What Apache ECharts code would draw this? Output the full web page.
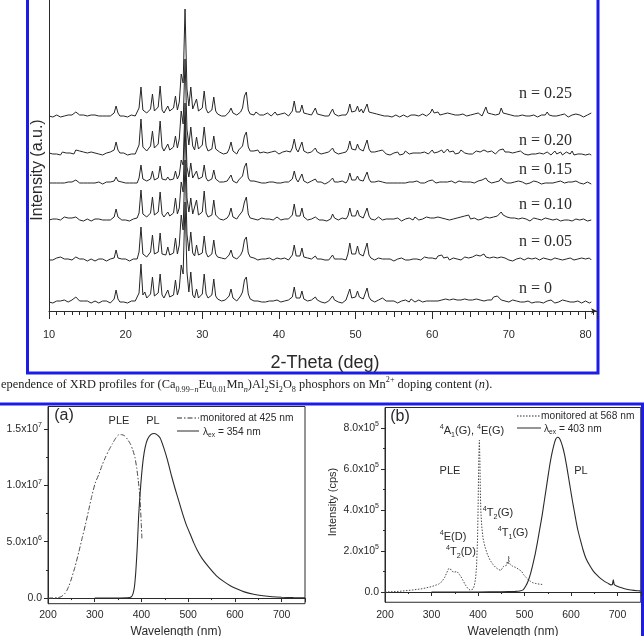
<!DOCTYPE html>
<html>
<head>
<meta charset="utf-8">
<script src="https://cdn.jsdelivr.net/npm/echarts@6/dist/echarts.min.js"></script>
<style>
  html, body { margin: 0; padding: 0; background: #fff; }
  #chart { width: 644px; height: 636px; }
</style>
</head>
<body>
<div id="chart"></div>
<script>
// ---------- XRD patterns: 2-Theta sampled every 0.25 deg starting at 10 deg ----------
const thetaStart = 10;
const thetaStep = 0.25;

const xrdN000 = [
  0,1,-1,0,1,0,1,0,2,1,0,1,2,3,5,3,1,0,1,0,
  1,0,-1,0,1,0,-1,0,1,0,1,0,-1,1,3,12,3,0,1,0,
  0,-1,0,1,0,1,0,9,38,7,10,4,2,8,25,6,4,9,28,7,
  4,5,12,5,3,7,22,7,14,37,28,100,30,10,30,7,4,13,4,3,
  8,28,8,4,3,7,23,6,3,2,1,0,2,3,6,13,4,2,1,3,
  6,10,22,25,8,3,2,1,0,1,2,0,1,0,2,1,3,1,0,2,
  1,0,2,1,0,2,1,5,15,4,2,4,11,3,2,1,0,2,1,5,
  2,1,0,1,-1,0,1,2,6,2,1,0,1,-1,0,2,4,13,4,3,
  5,11,5,5,3,5,14,5,2,1,0,1,2,1,4,2,1,0,1,0,
  1,0,-1,0,1,0,2,1,0,3,1,0,1,2,1,0,2,1,0,1,
  2,1,3,1,0,2,1,3,5,2,1,3,1,2,0,2,1,3,1,2,
  1,2,0,3,1,2,4,1,3,2,4,2,5,3,6,4,2,3,1,2,
  0,1,2,0,1,-1,0,1,0,2,1,0,-1,1,0,2,0,1,-1,0,
  1,0,2,0,-1,1,0,1,2,0,1,-1,0,1,0,2,1,0,-1,0,
  1,0,-1,0
];
const xrdN005 = [
  0,1,0,1,2,1,3,2,1,2,1,2,0,1,3,2,1,0,1,0,
  -1,0,1,0,-1,0,1,0,1,0,-1,0,1,0,2,10,2,0,1,0,
  1,0,-1,0,1,0,1,8,33,6,6,3,2,8,25,6,4,8,27,6,
  4,5,13,5,3,7,22,6,15,45,30,100,26,9,28,7,4,15,5,3,
  7,24,7,3,2,6,20,6,3,1,2,0,1,3,5,10,3,2,1,3,
  5,9,20,23,7,3,1,2,1,0,2,1,0,1,0,2,1,0,1,2,
  0,1,0,2,1,0,2,5,15,4,2,4,12,3,1,2,0,1,2,4,
  1,0,1,-1,0,1,0,2,5,1,0,1,0,1,2,0,6,17,6,4,
  6,14,6,6,4,6,17,5,2,1,0,1,2,0,1,3,1,0,1,0,
  -1,0,1,0,2,1,0,1,0,2,1,0,1,2,0,1,3,1,2,0,
  2,3,1,4,2,5,2,1,3,0,1,2,0,1,2,0,1,3,1,2,
  1,3,2,5,3,4,2,6,3,5,2,4,3,1,2,0,3,1,2,1,
  0,1,-1,0,1,0,2,1,0,1,2,0,1,0,2,1,0,1,2,0,
  1,3,0,1,2,0,1,-1,0,2,1,0,2,1,0,-1,1,0,2,0,
  1,-1,2,0
];
const xrdN010 = [
  0,-1,1,0,1,2,0,1,3,1,2,4,2,1,3,1,0,1,-1,0,
  1,0,-1,0,1,0,1,-1,0,1,0,1,0,2,3,11,3,1,0,1,
  0,1,-1,0,1,0,2,7,30,6,5,3,2,7,23,5,4,8,28,6,
  3,3,8,4,3,7,22,6,12,38,28,100,22,8,22,6,4,20,5,4,
  8,29,7,3,2,5,20,5,3,1,2,0,1,2,5,12,3,2,1,4,
  5,9,18,23,6,2,3,1,2,0,1,2,0,1,3,1,2,0,1,3,
  1,0,2,1,3,1,2,5,16,4,2,4,12,3,1,0,2,1,0,3,
  1,0,2,0,1,-1,0,1,6,2,1,0,1,2,0,1,4,12,4,2,
  4,10,4,5,2,4,12,4,1,2,0,1,3,1,0,2,1,0,1,0,
  1,0,2,1,-1,0,1,0,2,1,0,3,1,0,2,1,0,3,1,2,
  0,2,1,3,1,2,0,1,3,0,2,1,0,2,1,3,2,4,2,5,
  1,0,2,1,0,2,1,0,3,1,2,1,3,2,4,6,8,5,4,3,
  3,2,1,2,0,1,0,2,0,1,0,-1,1,2,0,1,-1,0,1,2,
  0,1,-1,0,2,1,0,-1,1,0,2,0,1,-1,0,1,2,0,-1,1,
  0,-1,1,0
];
const xrdN015 = [
  0,1,0,-1,0,1,0,1,0,2,1,0,1,2,3,1,0,1,0,1,
  0,-1,0,1,0,0,1,0,-1,0,1,0,1,0,2,6,2,0,1,0,
  0,1,0,-1,0,1,0,5,18,4,4,2,1,4,12,3,2,5,17,4,
  2,3,6,3,2,4,12,4,8,23,18,80,16,6,20,5,3,12,4,3,
  6,18,5,2,1,4,13,4,2,1,0,1,0,2,3,8,2,1,0,3,
  4,7,16,20,5,2,1,2,0,1,2,0,1,0,2,1,0,1,2,0,
  1,0,2,1,0,1,2,4,12,4,1,3,9,2,1,0,1,2,0,4,
  1,0,1,0,-1,0,1,2,5,1,0,1,0,2,1,0,3,10,3,2,
  3,7,3,4,2,4,11,4,1,0,1,0,2,0,1,2,0,1,0,1,
  0,1,0,2,0,1,0,2,1,0,1,0,2,1,0,1,0,1,2,1,
  3,1,0,2,1,0,1,3,1,0,2,1,0,1,2,0,1,3,1,0,
  1,2,0,1,2,0,3,1,5,2,1,0,2,1,0,2,5,2,1,0,
  1,0,-1,1,0,2,0,1,0,-1,1,0,1,2,0,1,0,-1,1,0,
  2,0,1,0,-1,1,0,2,1,0,-1,1,0,1,0,2,1,0,1,-1,
  0,1,0,-1
];
const xrdN020 = [
  1,-1,0,2,0,1,-1,2,0,1,3,1,2,0,4,2,3,1,2,0,
  1,-1,2,0,1,-1,0,2,-1,0,1,0,2,1,4,12,4,1,0,1,
  0,-1,1,0,2,0,1,9,35,7,6,3,2,8,23,6,4,10,33,7,
  3,5,10,4,3,7,18,6,15,43,30,95,25,9,27,8,4,17,5,4,
  9,27,8,3,2,5,18,5,3,2,1,0,2,1,5,12,3,2,0,4,
  5,8,18,22,7,3,1,3,2,4,1,0,2,3,1,0,2,1,3,2,
  0,1,2,0,3,1,2,6,15,5,2,4,12,3,2,1,0,2,1,6,
  2,1,0,-1,1,0,2,1,6,2,1,0,-1,1,0,2,5,13,5,3,
  4,10,5,6,3,5,14,5,2,1,2,0,3,1,4,2,0,1,-1,0,
  1,0,2,-1,1,0,3,1,0,2,1,0,1,3,1,0,2,1,0,2,
  4,1,3,2,0,4,1,2,5,2,1,3,0,2,1,4,2,1,3,0,
  2,0,1,3,1,2,0,4,6,2,1,3,2,0,2,4,3,5,2,1,
  2,0,1,-1,2,0,3,1,0,2,-1,1,0,2,0,-1,1,3,0,1,
  2,0,-1,1,3,0,1,2,-1,0,2,1,0,3,-1,1,0,2,0,1,
  -1,1,0,-1
];
const xrdN025 = [
  0,1,-1,0,1,0,-1,1,0,2,1,3,1,2,4,2,1,0,1,0,
  0,-1,1,0,1,-1,0,1,0,-1,0,1,0,1,3,10,3,0,-1,0,
  0,-1,0,1,0,0,1,8,29,6,7,3,2,7,22,5,3,9,30,6,
  3,4,10,5,4,8,20,6,14,42,33,107,27,10,29,7,5,17,5,3,
  8,25,7,3,2,6,19,5,2,1,0,1,0,2,4,8,3,2,1,3,
  4,8,20,24,6,2,3,1,4,2,1,3,1,0,3,1,0,2,4,1,
  0,2,1,3,1,0,2,5,15,4,2,4,11,3,1,2,0,1,3,8,
  2,0,1,-1,0,1,0,2,7,2,1,0,2,1,0,1,4,12,4,3,
  5,10,4,7,3,5,12,4,2,3,1,2,0,1,3,0,-1,0,1,-1,
  0,1,0,-1,0,1,0,-1,0,1,0,1,0,0,1,2,1,0,1,3,
  7,3,2,4,1,3,2,0,3,1,2,0,1,3,1,0,2,1,0,2,
  1,0,2,1,3,1,0,2,9,3,1,2,0,1,3,2,8,3,1,2,
  0,1,-1,0,1,0,2,1,-1,0,1,0,2,1,0,-1,0,1,0,1,
  4,1,3,0,1,0,-1,1,0,2,0,-1,0,1,0,2,0,1,0,-1,
  0,1,0,3
];

const xrdPatterns = [xrdN000, xrdN005, xrdN010, xrdN015, xrdN020, xrdN025];
const xrdLabels = ['n = 0', 'n = 0.05', 'n = 0.10', 'n = 0.15', 'n = 0.20', 'n = 0.25'];
// vertical stacking of the patterns (a.u.)
const xrdStackOffset = [9, 51, 91, 128, 157, 195];
const xrdLabelY = [289, 242, 205, 170, 141, 94];

// ---------- (a) PLE monitored at 425 nm, PL excited at 354 nm (x10^6 cps) ----------
const pleAWave = [200,220,228,235,240,245,250,258,266,273,280,287,294,301,309,316,323,330,338,345,352,358,364,370,376,381,386,390,393,396,398,400,401];
const pleAInt  = [0,0.03,0.12,0.35,0.65,1.1,1.7,2.8,4.1,5.3,6.5,7.8,9.1,10.2,11.0,11.8,12.5,13.1,13.7,14.2,14.5,14.5,14.4,14.1,13.7,13.2,12.5,11.5,10.5,9.3,8.0,6.2,5.3];
const plAWave = [300,340,370,378,382,385,388,391,394,397,400,404,408,413,420,427,433,440,448,456,464,472,480,488,496,504,512,520,530,545,560,575,590,605,620,640,660,680,700,725,750];
const plAInt  = [0,0.01,0.03,0.1,0.4,1.0,2.4,4.5,7.3,9.2,10.8,12.4,13.4,14.1,14.5,14.6,14.5,14.2,13.3,12.2,10.9,9.7,8.6,7.5,6.5,5.7,4.9,4.2,3.5,2.7,2.0,1.5,1.1,0.8,0.55,0.34,0.21,0.12,0.07,0.04,0.02];

// ---------- (b) PLE monitored at 568 nm, PL excited at 403 nm (x10^5 cps) ----------
const pleBWave = [200,230,260,280,300,315,322,328,333,337,340,343,347,351,355,359,363,368,373,378,383,386,389,392,395,397,399,400,401,402,403,404,405,406,408,411,415,420,426,432,438,444,449,452,455,458,461,463,465,466,467,469,472,475,478,481,485,488,491,494,498,503,508,513,518,523,528,533,538];
const pleBInt  = [0,0.03,0.1,0.16,0.26,0.38,0.5,0.7,0.95,1.15,1.24,1.08,0.96,0.98,1.0,0.92,0.76,0.55,0.34,0.18,0.09,0.08,0.14,0.3,0.7,1.3,2.6,3.8,5.4,6.8,7.4,6.5,5.0,4.0,3.2,2.6,2.2,1.85,1.55,1.35,1.2,1.1,1.05,1.15,1.25,1.2,1.3,1.5,1.35,1.75,1.45,1.35,1.4,1.25,1.32,1.2,1.15,1.1,1.14,1.0,0.85,0.72,0.6,0.52,0.45,0.42,0.4,0.38,0.37];
const plBWave = [300,400,450,480,490,497,503,508,513,518,523,528,533,538,543,548,553,558,563,567,571,575,579,583,587,591,595,599,603,607,611,615,620,626,632,640,648,656,664,672,680,686,689,691,693,698,705,715,725,735,745,750];
const plBInt  = [0,0,0.01,0.03,0.05,0.1,0.3,0.55,0.9,1.35,1.85,2.45,3.1,3.75,4.5,5.25,6.0,6.65,7.15,7.45,7.55,7.5,7.3,7.0,6.6,6.1,5.55,5.0,4.45,3.95,3.45,3.0,2.55,2.05,1.65,1.3,1.02,0.82,0.65,0.52,0.42,0.35,0.37,0.6,0.36,0.29,0.23,0.16,0.11,0.08,0.06,0.05];

// tick labels
const yTicksA = [0, 5e6, 1e7, 1.5e7];
const yMinorA = [2.5e6, 7.5e6, 1.25e7];
const yTicksB = [0, 2e5, 4e5, 6e5, 8e5];
const yMinorB = [1e5, 3e5, 5e5, 7e5];

// ---------- styling ----------
const SANS = '"Liberation Sans", Arial, sans-serif';
const SERIF = '"Liberation Serif", "Times New Roman", serif';
const INK = '#2a2a2a';
const BLUE = '#1c1ce6';

const zip = (xs, ys, k) => xs.map((x, i) => [x, ys[i] * k]);

// "1.5x10^7" style labels
const sciLabel = v => {
  if (v === 0) return '0.0';
  const parts = v.toExponential(1).split('e');
  return '{m|' + parts[0] + 'x10}{e|' + Number(parts[1]) + '}';
};
const sciRich = {
  m: { fontSize: 10.5, fontFamily: SANS, color: INK, lineHeight: 14 },
  e: { fontSize: 7, fontFamily: SANS, color: INK, verticalAlign: 'top', lineHeight: 9 }
};
const supSub = size => ({
  p: { fontSize: size * 0.65, fontFamily: SANS, fill: INK, verticalAlign: 'top', lineHeight: size * 0.8 },
  b: { fontSize: size * 0.65, fontFamily: SANS, fill: INK, verticalAlign: 'bottom', lineHeight: size * 0.8 }
});

function txt(x, y, text, size, family, align, extra) {
  const el = {
    type: 'text', x: x, y: y, silent: true,
    style: {
      text: text, fontSize: size, fontFamily: family || SANS, fill: INK,
      textAlign: align || 'center', textVerticalAlign: 'middle', lineHeight: size * 1.4,
      rich: supSub(size)
    }
  };
  return Object.assign(el, extra || {});
}
function legendLine(x1, x2, y, dash) {
  return {
    type: 'line', silent: true,
    shape: { x1: x1, y1: y, x2: x2, y2: y },
    style: { stroke: INK, lineWidth: 1, lineDash: dash || null }
  };
}

const waveAxis = (grid, margin) => ({
  type: 'value', gridIndex: grid, min: 200, max: 750, interval: 100,
  axisLine: { show: true, lineStyle: { color: INK, width: 1 } },
  axisTick: { show: true, inside: false, length: 4, lineStyle: { color: INK } },
  minorTick: { show: true, splitNumber: 2, length: 2, lineStyle: { color: INK } },
  axisLabel: { show: true, margin: margin, fontSize: 10.5, fontFamily: SANS, color: INK, showMaxLabel: false },
  splitLine: { show: false }
});
const intAxis = (grid, min, max, ticks) => ({
  type: 'value', gridIndex: grid, position: 'left', min: min, max: max,
  axisLine: { show: true, lineStyle: { color: INK, width: 1 } },
  axisTick: { show: true, length: 4, customValues: ticks, lineStyle: { color: INK } },
  axisLabel: { show: true, margin: 6, customValues: ticks, formatter: sciLabel, rich: sciRich,
               fontSize: 10.5, fontFamily: SANS, color: INK },
  splitLine: { show: false }
});
const minorAxis = (grid, min, max, ticks) => ({
  type: 'value', gridIndex: grid, position: 'left', offset: 0, min: min, max: max,
  axisLine: { show: false },
  axisTick: { show: true, length: 2, customValues: ticks, lineStyle: { color: INK } },
  axisLabel: { show: false },
  splitLine: { show: false }
});

const xrdSeries = xrdPatterns.map((pat, k) => ({
  type: 'line', name: xrdLabels[k], xAxisIndex: 0, yAxisIndex: 0,
  data: pat.map((v, i) => [thetaStart + i * thetaStep, v + xrdStackOffset[k]]),
  showSymbol: false, symbol: 'none', silent: true,
  lineStyle: { color: '#262626', width: 1 }
}));

const chart = echarts.init(document.getElementById('chart'), null, { renderer: 'canvas' });

chart.setOption({
  animation: false,
  backgroundColor: '#fff',
  grid: [
    { left: 49, top: 0, width: 548, height: 311, containLabel: false, outerBoundsMode: 'none' },
    { left: 48, top: 406.5, width: 257, height: 197.2, containLabel: false, outerBoundsMode: 'none',
      show: true, borderColor: INK, borderWidth: 1, backgroundColor: 'transparent' },
    { left: 385, top: 407.5, width: 255.75, height: 194.75, containLabel: false, outerBoundsMode: 'none',
      show: true, borderColor: INK, borderWidth: 1, backgroundColor: 'transparent' }
  ],
  xAxis: [
    {
      type: 'value', gridIndex: 0, min: 10, max: 81.5, interval: 10,
      axisLine: { show: true, symbol: ['none', 'arrow'], symbolSize: [4, 6], lineStyle: { color: INK, width: 1 } },
      axisTick: { show: true, length: 8, lineStyle: { color: INK } },
      minorTick: { show: true, splitNumber: 10, length: 4, lineStyle: { color: INK } },
      axisLabel: { show: true, margin: 18, fontSize: 11, fontFamily: SANS, color: INK, showMaxLabel: false },
      splitLine: { show: false }
    },
    {
      type: 'value', gridIndex: 0, position: 'bottom', min: 10, max: 81.5, interval: 5,
      axisLine: { show: false },
      axisTick: { show: true, length: 6, lineStyle: { color: INK } },
      axisLabel: { show: false },
      splitLine: { show: false }
    },
    waveAxis(1, 6),
    waveAxis(2, 7)
  ],
  yAxis: [
    {
      type: 'value', gridIndex: 0, min: 0, max: 311,
      axisLine: { show: true, lineStyle: { color: INK, width: 1 } },
      axisTick: { show: false }, axisLabel: { show: false }, splitLine: { show: false }
    },
    intAxis(1, -5e5, 1.7e7, yTicksA),
    minorAxis(1, -5e5, 1.7e7, yMinorA),
    intAxis(2, -5e4, 9e5, yTicksB),
    minorAxis(2, -5e4, 9e5, yMinorB)
  ],
  series: xrdSeries.concat([
    { type: 'line', name: 'PLE (a)', xAxisIndex: 2, yAxisIndex: 1, data: zip(pleAWave, pleAInt, 1e6),
      showSymbol: false, symbol: 'none', silent: true, smooth: 0.2,
      lineStyle: { color: '#4a4a4a', width: 1, type: [5, 2, 1.5, 2] } },
    { type: 'line', name: 'PL (a)', xAxisIndex: 2, yAxisIndex: 1, data: zip(plAWave, plAInt, 1e6),
      showSymbol: false, symbol: 'none', silent: true, smooth: 0.2,
      lineStyle: { color: '#2a2a2a', width: 1.1 } },
    { type: 'line', name: 'PLE (b)', xAxisIndex: 3, yAxisIndex: 3, data: zip(pleBWave, pleBInt, 1e5),
      showSymbol: false, symbol: 'none', silent: true,
      lineStyle: { color: '#4a4a4a', width: 1, type: [1.5, 1.5] } },
    { type: 'line', name: 'PL (b)', xAxisIndex: 3, yAxisIndex: 3, data: zip(plBWave, plBInt, 1e5),
      showSymbol: false, symbol: 'none', silent: true, smooth: 0.15,
      lineStyle: { color: '#2a2a2a', width: 1.1 } }
  ]),
  graphic: [
    // blue panel frames
    { type: 'rect', silent: true, shape: { x: 27.5, y: -5, width: 570.5, height: 378 },
      style: { fill: 'none', stroke: BLUE, lineWidth: 3 } },
    { type: 'rect', silent: true, shape: { x: -5, y: 404, width: 647.5, height: 240 },
      style: { fill: 'none', stroke: BLUE, lineWidth: 3 } },

    // XRD texts
    txt(38, 170, 'Intensity (a.u.)', 16, SANS, 'center', { rotation: Math.PI / 2 }),
    txt(325, 363, '2-Theta (deg)', 18, SANS, 'center')
  ].concat(
    xrdLabels.map((s, k) => txt(519, xrdLabelY[k], s, 16, SERIF, 'left'))
  ).concat([
    // caption
    {
      type: 'text', x: 1, y: 385, silent: true,
      style: {
        text: 'ependence of XRD profiles for (Ca{b|0.99\u2212}{bi|n}Eu{b|0.01}Mn{bi|n})Al{b|2}Si{b|2}O{b|8} phosphors on Mn{p|2+} doping content ({i|n}).',
        fontSize: 12.4, fontFamily: SERIF, fill: '#222', textAlign: 'left', textVerticalAlign: 'middle', lineHeight: 18,
        rich: {
          b: { fontSize: 8.2, fontFamily: SERIF, fill: '#222', verticalAlign: 'bottom', lineHeight: 11 },
          bi: { fontSize: 8.2, fontFamily: SERIF, fontStyle: 'italic', fill: '#222', verticalAlign: 'bottom', lineHeight: 11 },
          p: { fontSize: 8.2, fontFamily: SERIF, fill: '#222', verticalAlign: 'top', lineHeight: 11 },
          i: { fontSize: 12.4, fontFamily: SERIF, fontStyle: 'italic', fill: '#222', lineHeight: 18 }
        }
      }
    },

    // panel (a)
    txt(64, 416, '(a)', 16, SANS, 'center'),
    txt(119, 421, 'PLE', 11, SANS, 'center'),
    txt(153, 421, 'PL', 11, SANS, 'center'),
    legendLine(177, 199, 418, [5, 2, 1.5, 2]),
    txt(200, 418, 'monitored at 425 nm', 10.2, SANS, 'left'),
    legendLine(177, 199, 431),
    txt(203, 432, '\u03bb{b|ex} = 354 nm', 10.2, SANS, 'left'),
    txt(176, 632, 'Wavelength (nm)', 12, SANS, 'center'),

    // panel (b)
    txt(400, 417, '(b)', 16, SANS, 'center'),
    legendLine(517, 541, 416, [1.5, 1.5]),
    txt(541, 416, 'monitored at 568 nm', 10.2, SANS, 'left'),
    legendLine(517, 541, 428),
    txt(544, 429, '\u03bb{b|ex} = 403 nm', 10.2, SANS, 'left'),
    txt(472, 431, '{p|4}A{b|1}(G), {p|4}E(G)', 11, SANS, 'center'),
    txt(450, 471, 'PLE', 11, SANS, 'center'),
    txt(581, 471, 'PL', 11, SANS, 'center'),
    txt(498, 513, '{p|4}T{b|2}(G)', 11, SANS, 'center'),
    txt(513, 533, '{p|4}T{b|1}(G)', 11, SANS, 'center'),
    txt(453, 537, '{p|4}E(D)', 11, SANS, 'center'),
    txt(461, 552, '{p|4}T{b|2}(D)', 11, SANS, 'center'),
    txt(333, 502, 'Intensity (cps)', 11, SANS, 'center', { rotation: Math.PI / 2 }),
    txt(513, 632, 'Wavelength (nm)', 12, SANS, 'center')
  ])
});
</script>
</body>
</html>
